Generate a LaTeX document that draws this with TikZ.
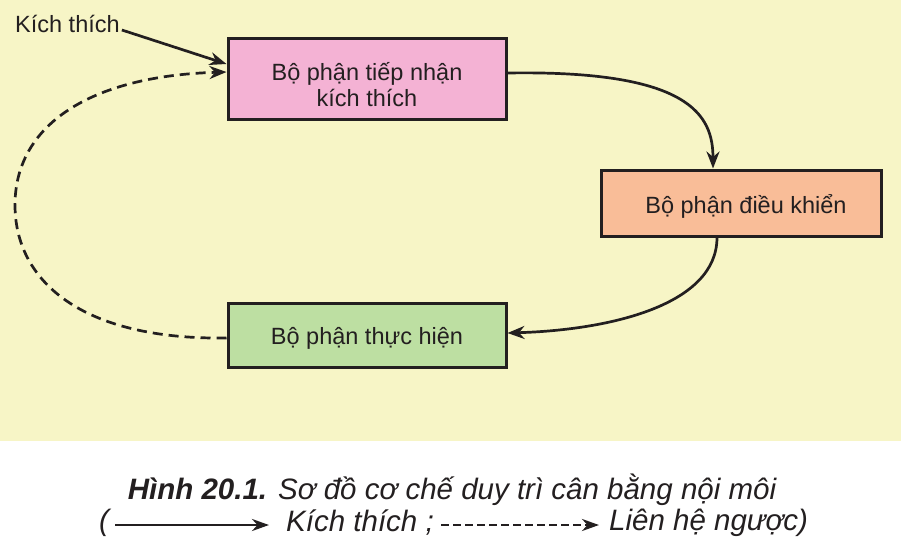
\documentclass[tikz,border=0pt]{standalone}
\usepackage{fontspec}
\setmainfont{Liberation Sans}
\usetikzlibrary{arrows.meta,calc}
\definecolor{bgyellow}{HTML}{F7F5C6}
\definecolor{pinkbox}{HTML}{F4B2D4}
\definecolor{orangebox}{HTML}{F9BD98}
\definecolor{greenbox}{HTML}{BDDFA2}
\definecolor{ink}{HTML}{231F20}
\tikzset{
  box/.style={draw=ink, line width=3pt, minimum width=278pt, inner sep=0pt},
  boxtext/.style={text=ink, align=center, inner sep=0pt, font=\fontsize{23.5}{26}\selectfont},
  conn/.style={draw=ink, line width=2.7pt, -{Stealth[length=17pt,width=13pt]}},
  fb/.style={conn, dash pattern=on 10pt off 6pt},
  lbl/.style={text=ink, inner sep=0pt},
  captxt/.style={lbl, font=\fontsize{29.5}{33}\selectfont\itshape},
}
\begin{document}
\begin{tikzpicture}[x=1pt,y=-1pt]
\useasboundingbox (0,0) rectangle (901,557);
\fill[white] (0,0) rectangle (901,557);
\fill[bgyellow] (0,0) rectangle (901,441);
\node[box, fill=pinkbox, minimum height=81pt] (b1) at (367,79) {};
\node[boxtext] (b1t) at (367,85) {Bộ phận tiếp nhận\\kích thích};
\node[box, fill=orangebox, minimum height=66pt, minimum width=280pt] (b2) at (741,203) {};
\node[boxtext] (b2t) at (746,206) {Bộ phận điều khiển};
\node[box, fill=greenbox, minimum height=64pt] (b3) at (367,335) {};
\node[boxtext] (b3t) at (367,338) {Bộ phận thực hiện};
\node[lbl, anchor=west, font=\fontsize{23.5}{27}\selectfont] (k) at (15,24) {Kích thích};
\draw[conn] ([xshift=2pt,yshift=-6pt]k.east) -- ([yshift=15pt]b1.west);
\draw[conn] ([yshift=6pt]b1.east) .. controls (690,70) and (713,115) .. ([xshift=-28pt]b2.north);
\draw[conn] ([xshift=-24pt]b2.south) .. controls (717,305) and (610,330) .. ([yshift=2pt]b3.east);
\draw[fb] ([yshift=-3pt]b3.west) .. controls (80,340) and (15,280) .. (15,205) .. controls (15,125) and (90,76) .. ([yshift=7pt]b1.west);
% caption
\node[captxt] (c1) at (452,490) {\textbf{Hình 20.1.} Sơ đồ cơ chế duy trì cân bằng nội môi};
\node[captxt, anchor=west] (p) at (99,523) {(};
\coordinate (s1) at (115,525);
\coordinate (s2) at (269,525);
\draw[draw=ink, line width=2.7pt, -{Stealth[length=17pt,width=12pt]}] (s1) -- (s2);
\node[captxt, anchor=west] (t1) at (286,523) {Kích thích ;};
\coordinate (d1) at (441,525);
\coordinate (d2) at (599,525);
\draw[draw=ink, line width=2.7pt, dash pattern=on 8pt off 4pt, -{Stealth[length=17pt,width=12pt]}] (d1) -- (d2);
\node[captxt, anchor=west] (t2) at (609,523) {Liên hệ ngược)};
\end{tikzpicture}
\end{document}
